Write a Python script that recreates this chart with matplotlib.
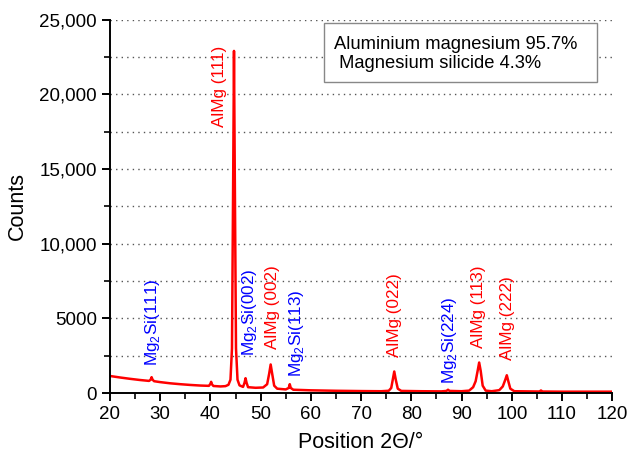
import matplotlib
matplotlib.use('Agg')
import matplotlib.pyplot as plt
from matplotlib.patches import Rectangle
from matplotlib.ticker import MultipleLocator, FixedLocator

plt.rcParams['font.family'] = ['Liberation Sans', 'DejaVu Sans']
plt.rcParams['mathtext.fontset'] = 'custom'
plt.rcParams['mathtext.rm'] = 'Liberation Sans'

# diffraction pattern
two_theta = [20, 22, 24, 26, 27.8, 28.1, 28.3, 28.5, 28.8, 30, 32, 34, 36, 38, 39.7, 40.0, 40.15, 40.3,
             40.6, 42, 43.0, 43.6, 44.0, 44.3, 44.55, 44.7, 44.85, 45.1, 45.4, 45.8, 46.5, 46.8, 47.0,
             47.2, 47.5, 49, 50.5, 51.3, 51.7, 52.0, 52.3, 52.7, 53.3, 55, 55.6, 55.8, 56.0, 56.5, 60,
             65, 70, 74, 75.5, 76.0, 76.3, 76.6, 76.9, 77.3, 78, 82, 86, 87.0, 87.3, 87.6, 90, 91.5,
             92.3, 92.8, 93.2, 93.5, 93.8, 94.2, 94.8, 96, 97.5, 98.2, 98.7, 99.0, 99.3, 99.7, 100.5,
             105.5, 105.8, 106.1, 110, 115, 120]
counts = [1150, 1050, 960, 880, 820, 900, 1070, 900, 800, 740, 660, 600, 550, 510, 490, 620, 760, 600,
          480, 450, 470, 560, 900, 3000, 15000, 22900, 15000, 3000, 900, 520, 420, 700, 1000,
          700, 400, 360, 380, 600, 1300, 1920, 1300, 500, 300, 250, 350, 600, 350, 230, 190,
          160, 140, 130, 160, 350, 900, 1450, 900, 300, 150, 130, 120, 150, 230, 150, 130, 170,
          400, 800, 1500, 2050, 1500, 500, 170, 130, 200, 450, 900, 1200, 800, 300, 130,
          110, 180, 110, 100, 100, 100]

# peak labels: text, x, bottom of text, colour
peak_labels = [r'Mg$_\mathregular{2}$Si(111)', r'AlMg (111)', r'Mg$_\mathregular{2}$Si(002)', r'AlMg (002)',
               r'Mg$_\mathregular{2}$Si(113)', r'AlMg (022)', r'Mg$_\mathregular{2}$Si(224)',
               r'AlMg (113)', r'AlMg (222)']
label_x = [28.5, 41.8, 47.75, 52.4, 57.05, 76.65, 87.6, 93.4, 99.1]
label_y = [1800, 17800, 2470, 2940, 1100, 2430, 600, 3000, 2250]
label_colors = ['blue', 'red', 'blue', 'red', 'blue', 'red', 'blue', 'red', 'red']

y_ticks = [0, 5000, 10000, 15000, 20000, 25000]
y_tick_labels = ['0', '5000', '10,000', '15,000', '20,000', '25,000']

fig = plt.figure(figsize=(6.28, 4.54), dpi=100)
ax = fig.add_axes([0.175, 0.134, 0.8, 0.823])

ax.plot(two_theta, counts, color='#ff0000', lw=1.8)

for txt, x, y, c in zip(peak_labels, label_x, label_y, label_colors):
    ax.text(x, y, txt, rotation=90, ha='center', va='bottom', color=c, fontsize=12.3)

ax.set_xlim(20, 120)
ax.set_ylim(0, 25000)
ax.xaxis.set_major_locator(MultipleLocator(10))
ax.xaxis.set_minor_locator(MultipleLocator(5))
ax.yaxis.set_major_locator(FixedLocator(y_ticks))
ax.set_yticklabels(y_tick_labels)
ax.yaxis.set_minor_locator(MultipleLocator(2500))

for y in range(2500, 25001, 2500):
    ax.axhline(y, color='#555555', ls=(0, (1, 3)), lw=1, zorder=0)

ax.spines['top'].set_visible(False)
ax.spines['right'].set_visible(False)
ax.spines['left'].set_linewidth(1.4)
ax.spines['bottom'].set_linewidth(1.4)
ax.tick_params(which='major', direction='out', length=6, width=1.4, labelsize=13.5)
ax.tick_params(which='minor', direction='out', length=4, width=1.2)

ax.set_xlabel('Position 2Θ/°', fontsize=15.5, labelpad=6)
ax.set_ylabel('Counts', fontsize=15.5, labelpad=8)

# composition box
ax.add_patch(Rectangle((0.427, 0.833), 0.542, 0.158, transform=ax.transAxes, facecolor='white',
                       edgecolor='#888888', lw=1, zorder=3))
ax.text(0.447, 0.934, 'Aluminium magnesium 95.7%', transform=ax.transAxes, fontsize=13.2,
        va='center', ha='left', zorder=4)
ax.text(0.447, 0.881, ' Magnesium silicide 4.3%', transform=ax.transAxes, fontsize=13.2,
        va='center', ha='left', zorder=4)

fig.savefig('out.png', dpi=100)
